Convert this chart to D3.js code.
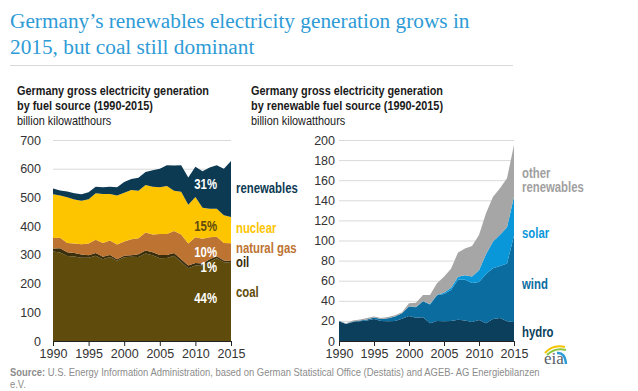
<!DOCTYPE html>
<html><head><meta charset="utf-8">
<script src="https://cdn.jsdelivr.net/npm/d3@7"></script>
<style>
body{margin:0;background:#fff;}
svg{display:block;}
text{font-family:"Liberation Sans",Arial,sans-serif;}
</style></head><body>
<svg id="c" width="638" height="391"></svg>
<script>
const years=[1990,1991,1992,1993,1994,1995,1996,1997,1998,1999,2000,2001,2002,2003,2004,2005,2006,2007,2008,2009,2010,2011,2012,2013,2014,2015];
const xTicks=[1990,1995,2000,2005,2010,2015];
const leftTicks=[0,100,200,300,400,500,600,700];
const rightTicks=[0,20,40,60,80,100,120,140,160,180,200];

// left panel (billion kWh)
const coal=[311.7,308.1,296.2,294.5,290.2,289.7,297.0,284.8,292.8,279.1,291.4,293.2,292.6,304.7,298.8,288.2,289.0,297.1,275.2,253.5,262.9,262.5,277.1,288.2,274.4,272.2];
const oil=[10.8,14.8,12.5,12.2,11.0,9.1,9.8,8.7,6.6,5.9,5.9,5.8,9.2,10.3,10.3,11.6,10.5,9.6,9.2,9.6,8.7,7.2,7.6,7.2,5.7,6.2];
const naturalGas=[35.9,36.3,32.8,32.6,36.1,41.1,45.8,48.0,50.9,51.4,49.2,55.5,56.3,62.9,61.4,72.7,73.4,76.0,86.7,76.7,89.3,86.1,76.4,67.5,61.1,62.0];
const nuclear=[152.5,147.4,158.8,153.5,151.2,154.1,161.6,170.3,161.6,170.0,169.6,171.3,164.8,165.1,167.1,163.0,167.3,140.5,148.8,134.9,140.6,108.0,99.5,97.3,97.1,91.8];
const renewables=[20.1,17.7,20.3,21.5,22.9,24.4,23.0,24.0,25.7,28.7,37.7,38.0,45.8,45.8,57.4,64.0,72.0,88.0,92.0,94.5,105.5,127.0,143.6,152.0,162.0,195.0];

// right panel (billion kWh)
const hydro=[19.7,17.0,19.0,19.7,20.5,21.9,19.8,19.7,20.0,22.2,24.9,23.2,23.7,17.7,19.9,19.6,20.0,21.2,20.4,19.0,21.0,17.7,21.8,23.0,19.6,19.0];
const wind=[0.1,0.2,0.3,0.6,0.9,1.5,2.0,3.0,4.5,5.5,9.5,10.5,15.8,18.7,25.5,27.2,30.7,39.7,40.6,38.6,37.8,48.9,50.7,51.7,57.4,86.0];
const solar=[0,0,0,0,0,0,0,0,0,0,0.06,0.08,0.2,0.3,0.6,1.3,2.2,3.1,4.4,6.6,11.7,19.6,26.4,31.0,36.1,38.7];
const otherRenewables=[0.3,0.5,1.0,1.2,1.5,1.0,1.2,1.3,1.2,1.0,3.2,4.2,6.1,9.1,11.4,15.9,19.1,24.0,26.6,30.3,35.0,40.8,44.7,46.3,48.9,51.3];

const leftKeys=["coal","oil","natural gas","nuclear","renewables"];
const leftCols={"coal":"#5f4b0c","oil":"#3a2e0b","natural gas":"#bd7331","nuclear":"#fdc400","renewables":"#0d3a53"};
const rightKeys=["hydro","wind","solar","other renewables"];
const rightCols={"hydro":"#0b3f5c","wind":"#0a6c9f","solar":"#0a97d9","other renewables":"#a6a6a6"};

const leftTable=years.map((y,i)=>({year:y,"coal":coal[i],"oil":oil[i],"natural gas":naturalGas[i],"nuclear":nuclear[i],"renewables":renewables[i]}));
const rightTable=years.map((y,i)=>({year:y,"hydro":hydro[i],"wind":wind[i],"solar":solar[i],"other renewables":otherRenewables[i]}));

const svg=d3.select("#c");
svg.append("rect").attr("width",638).attr("height",391).attr("fill","#fff");
const SX=0.8; // condensed text (narrow face emulation)
function nt(x,y,t,size,fill,bold,anchor){
  const g=svg.append("g").attr("transform",`translate(${x},${y}) scale(${SX},1)`);
  return g.append("text").attr("x",0).attr("y",0).attr("fill",fill).attr("text-anchor",anchor||"start")
    .style("font-size",size+"px").style("font-weight",bold?"bold":"normal").text(t);
}

// title
const title=svg.append("text").attr("fill","#2e9bd6").style("font-family","'Liberation Serif','Times New Roman',serif").style("font-size","21.3px");
title.append("tspan").attr("x",10).attr("y",28).text("Germany’s renewables electricity generation grows in");
title.append("tspan").attr("x",10).attr("y",54).text("2015, but coal still dominant");
svg.append("line").attr("x1",10).attr("x2",513).attr("y1",65.5).attr("y2",65.5).attr("stroke","#d9d9d9");

function panel(o){
  const x=d3.scaleLinear().domain([1990,2015]).range([o.x0,o.x1]);
  const y=d3.scaleLinear().domain([0,o.max]).range([341,140]);
  const g=svg.append("g");
  nt(o.tx,95,o.t1,13.6,"#1a1a1a",true);
  nt(o.tx,109.5,o.t2,13.6,"#1a1a1a",true);
  nt(o.tx,124.5,"billion kilowatthours",13.6,"#1a1a1a",false);
  // grid + y axis
  const ya=g.append("g").attr("transform",`translate(${o.x0},0)`)
    .call(d3.axisLeft(y).tickValues(o.ticks).tickSize(-(o.x1-o.x0)).tickPadding(o.pad));
  ya.select(".domain").remove();
  ya.selectAll("line").attr("stroke","#d9d9d9");
  ya.selectAll("text").style("font-size","12.5px").attr("fill","#333");
  // areas
  const stack=d3.stack().keys(o.keys)(o.table);
  const area=d3.area().x(d=>x(d.data.year)).y0(d=>y(d[0])).y1(d=>y(d[1]));
  g.selectAll("path.s").data(stack).join("path").attr("class","s")
    .attr("d",area).attr("fill",d=>o.cols[d.key]);
  // x axis
  const xa=g.append("g").attr("transform","translate(0,341)")
    .call(d3.axisBottom(x).tickValues(xTicks).tickFormat(d3.format("d")).tickSize(5).tickPadding(3));
  xa.select(".domain").attr("stroke","#222").attr("d",`M${o.x0},0.5H${o.x1}`);
  xa.selectAll("line").attr("stroke","#222");
  xa.selectAll("text").style("font-size","12.5px").attr("fill","#333");
  return {g,x,y};
}

panel({x0:53,x1:231,max:700,ticks:leftTicks,pad:12,keys:leftKeys,cols:leftCols,table:leftTable,tx:17,
  t1:"Germany gross electricity generation",t2:"by fuel source (1990-2015)"});
panel({x0:339,x1:514,max:200,ticks:rightTicks,pad:4,keys:rightKeys,cols:rightCols,table:rightTable,tx:251,
  t1:"Germany gross electricity generation",t2:"by renewable fuel source (1990-2015)"});

// series labels
const lab=(x,y,t,c)=>nt(x,y,t,14.2,c,true);
lab(236,193,"renewables",leftCols["renewables"]);
lab(236,232.5,"nuclear",leftCols["nuclear"]);
lab(236,252.5,"natural gas",leftCols["natural gas"]);
lab(236,266.5,"oil",leftCols["oil"]);
lab(236,296.5,"coal",leftCols["coal"]);
lab(522,178,"other","#a0a0a0");
lab(522,191.5,"renewables","#a0a0a0");
lab(522,237.5,"solar",rightCols["solar"]);
lab(522,289,"wind",rightCols["wind"]);
lab(522,336.5,"hydro",rightCols["hydro"]);

const pct=(y,t,c)=>nt(217,y,t,14.2,c,true,"end");
pct(189,"31%","#fff");
pct(231,"15%","#5f4b0c");
pct(257,"10%","#fff");
pct(271.5,"1%","#fff");
pct(302.5,"44%","#fff");

// eia logo
const lg=svg.append("g").attr("transform","translate(543,344)");
lg.append("path").attr("d","M2,9 Q10,0 22,3").attr("fill","none").attr("stroke","#f5c400").attr("stroke-width",2);
lg.append("path").attr("d","M4,11 Q12,3 23,6").attr("fill","none").attr("stroke","#8dc63f").attr("stroke-width",2);
lg.append("path").attr("d","M14,9 Q22,8 23,20").attr("fill","none").attr("stroke","#2e9bd6").attr("stroke-width",2.5);
lg.append("text").attr("x",1).attr("y",20).style("font-family","'Liberation Serif',serif").style("font-size","17px").attr("fill","#55606a").text("eia");

// source
const sg=svg.append("g").attr("transform",`translate(10,375.5) scale(${SX},1)`);
const src=sg.append("text").attr("fill","#8c8c8c").style("font-size","11.8px");
src.append("tspan").style("font-weight","bold").text("Source:");
src.append("tspan").text(" U.S. Energy Information Administration, based on German Statistical Office (Destatis) and AGEB- AG Energiebilanzen");
nt(10,388,"e.V.",11.8,"#8c8c8c",false);
</script>
</body></html>
